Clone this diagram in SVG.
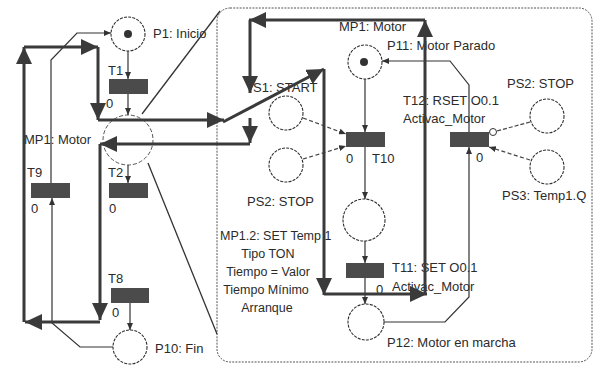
<svg xmlns="http://www.w3.org/2000/svg" width="594" height="366" viewBox="0 0 594 366">
<defs>
<style>
text{font-family:"Liberation Sans",Arial,sans-serif;font-size:13px;fill:#2b2b2b}
.pl{fill:#fff;stroke:#2e2e2e;stroke-width:1.1;stroke-dasharray:3 1.2}
.mp{fill:none;stroke:#555;stroke-width:1;stroke-dasharray:4 2}
.tr{fill:#4b4b4b}
.tok{fill:#333}
.thick{fill:none;stroke:#3a3a3a;stroke-width:3;marker-end:url(#big)}
.arc{fill:none;stroke:#333;stroke-width:1.2;marker-end:url(#sm)}
.dash{fill:none;stroke:#444;stroke-width:1.2;stroke-dasharray:4 2.5;marker-end:url(#sm)}
.zoom{fill:none;stroke:#333;stroke-width:1.3}
.box{fill:none;stroke:#555;stroke-width:1;stroke-dasharray:2 1.2}
</style>
<marker id="big" markerUnits="userSpaceOnUse" markerWidth="17" markerHeight="16" viewBox="0 0 17 16" refX="17" refY="8" orient="auto"><path d="M0,0 L17,8 L0,16 z" fill="#3a3a3a"/></marker>
<marker id="sm" markerUnits="userSpaceOnUse" markerWidth="7" markerHeight="6" viewBox="0 0 7 6" refX="7" refY="3" orient="auto"><path d="M0,0 L7,3 L0,6 z" fill="#333"/></marker>
</defs>
<rect width="594" height="366" fill="#fff"/>
<rect class="box" x="217" y="8" width="375" height="354" rx="13"/>

<g id="P1"><circle class="pl" cx="128" cy="34" r="17"/><circle class="tok" cx="128" cy="34" r="4"/><text x="153" y="38">P1: Inicio</text></g>
<g id="T1"><rect class="tr" x="109" y="79" width="39" height="15"/><text x="108" y="75">T1</text><text x="106" y="108">0</text></g>
<g id="MP1"><circle class="mp" cx="128" cy="140" r="25"/><text x="24" y="144">MP1: Motor</text></g>
<g id="T9"><rect class="tr" x="31" y="183" width="39" height="15"/><text x="27" y="177">T9</text><text x="31" y="213">0</text></g>
<g id="T2"><rect class="tr" x="109" y="183" width="39" height="15"/><text x="108" y="177">T2</text><text x="109" y="213">0</text></g>
<g id="T8"><rect class="tr" x="111" y="288" width="38" height="15"/><text x="108" y="283">T8</text><text x="112" y="317">0</text></g>
<g id="P10"><circle class="pl" cx="130" cy="347" r="17"/><text x="155" y="353">P10: Fin</text></g>

<g id="PS1"><circle class="pl" cx="286" cy="113" r="17"/><text x="253" y="92">S1: START</text></g>
<g id="PS2a"><circle class="pl" cx="286" cy="165" r="17"/><text x="247" y="206">PS2: STOP</text></g>
<g id="P11"><circle class="pl" cx="365" cy="62" r="17"/><circle class="tok" cx="364" cy="62" r="4"/><text x="339" y="31">MP1: Motor</text><text x="387" y="50">P11: Motor Parado</text></g>
<g id="T10"><rect class="tr" x="346" y="132" width="39" height="15"/><text x="346" y="163">0</text><text x="372" y="163">T10</text></g>
<g id="P2"><circle class="pl" cx="364" cy="220" r="21"/></g>
<g id="T11"><rect class="tr" x="346" y="263" width="38" height="15"/><text x="392" y="272">T11: SET O0.1</text><text x="392" y="291">Activac_Motor</text><text x="376" y="294">0</text></g>
<g id="P12"><circle class="pl" cx="366" cy="322" r="18"/><text x="387" y="347">P12: Motor en marcha</text></g>
<g id="T12"><rect class="tr" x="450" y="132" width="39" height="15"/><text x="403" y="105">T12: RSET O0.1</text><text x="403" y="123">Activac_Motor</text><text x="476" y="162">0</text></g>
<g id="PS2b"><circle class="pl" cx="547" cy="116" r="17"/><text x="507" y="88">PS2: STOP</text></g>
<g id="PS3"><circle class="pl" cx="547" cy="167" r="17"/><text x="502" y="200">PS3: Temp1.Q</text></g>
<g id="note">
<text x="220" y="240" style="font-size:12.5px">MP1.2: SET Temp 1</text>
<text x="268" y="258" text-anchor="middle" style="font-size:12.5px">Tipo TON</text>
<text x="268" y="276" text-anchor="middle" style="font-size:12.5px">Tiempo = Valor</text>
<text x="266" y="294" text-anchor="middle" style="font-size:12.5px">Tiempo Mínimo</text>
<text x="267" y="312" text-anchor="middle" style="font-size:12.5px">Arranque</text>
</g>

<g id="connectors">
<path class="zoom" d="M142,114 L220,11"/>
<path class="zoom" d="M148,163 L217,334"/>
<path class="arc" d="M128,51 V79"/>
<path class="arc" d="M128,94 V115"/>
<path class="arc" d="M128,165 V183"/>
<path class="arc" d="M130,303 V330"/>
<path class="arc" d="M51,183 V60 L77,33 H111"/>
<path class="arc" d="M113,347 H80 L52,323 V198"/>
<path class="arc" d="M365,79 V132"/>
<path class="arc" d="M365,147 V199"/>
<path class="arc" d="M365,241 V263"/>
<path class="arc" d="M365,278 V304"/>
<path class="arc" d="M384,322 H445 L469,297 V147"/>
<path class="arc" d="M469,132 V85 L450,61 H382"/>
<path class="dash" d="M303,118 L346,134"/>
<path class="dash" d="M303,159 L346,146"/>
<path class="dash" d="M530,160 L489,147"/>
<path d="M530,122 L497,131" fill="none" stroke="#444" stroke-width="1.2" stroke-dasharray="4 2"/>
<circle cx="493" cy="132" r="3.5" fill="#fff" stroke="#333" stroke-width="1"/>
<path class="thick" d="M24,322 V47"/>
<path class="thick" d="M24,47 H98"/>
<path class="thick" d="M98,47 V120"/>
<path class="thick" d="M98,120 H224"/>
<path class="thick" d="M223,122 L324,69"/>
<path class="thick" d="M324,69 V295"/>
<path class="thick" d="M324,294 H427"/>
<path class="thick" d="M425,294 V20"/>
<path class="thick" d="M425,20 H249"/>
<path class="thick" d="M250,20 V93"/>
<path class="thick" d="M250,118 V143"/>
<path class="thick" d="M250,144 H100"/>
<path class="thick" d="M100,144 V320"/>
<path class="thick" d="M100,322 H25"/>
</g>
</svg>
